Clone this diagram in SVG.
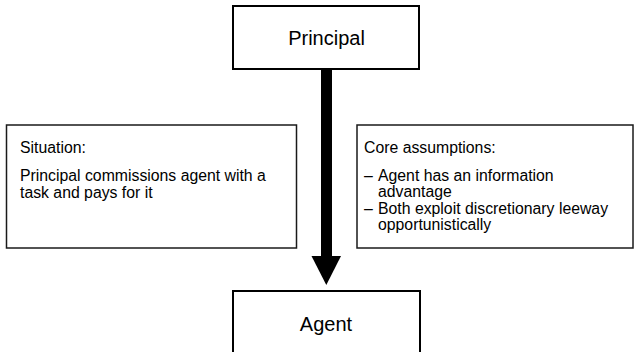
<svg xmlns="http://www.w3.org/2000/svg" width="636" height="352" viewBox="0 0 636 352">
  <style>
    .box { fill: #ffffff; stroke: #000000; stroke-width: 2; }
    .note { fill: #ffffff; stroke: #1a1a1a; stroke-width: 1.5; }
    .title { font-family: "Liberation Sans", Arial, sans-serif; font-size: 20px; fill: #000000; text-anchor: middle; }
    .body { font-family: "Liberation Sans", Arial, sans-serif; font-size: 15.8px; fill: #000000; }
  </style>
  <rect x="0" y="0" width="636" height="352" fill="#ffffff"/>

  <!-- connector: thick downward arrow from Principal to Agent -->
  <g id="connectors">
    <rect x="321" y="69" width="11" height="188" fill="#000000"/>
    <polygon points="311.5,256 341,256 326.3,285" fill="#000000"/>
  </g>

  <g id="principal">
    <rect class="box" x="233" y="6" width="186" height="63"/>
    <text class="title" x="326.5" y="45">Principal</text>
  </g>

  <g id="agent">
    <rect class="box" x="233" y="291" width="187" height="70"/>
    <text class="title" x="326" y="331">Agent</text>
  </g>

  <g id="situation">
    <rect class="note" x="6.5" y="125" width="290" height="123"/>
    <text class="body" x="20" y="153">Situation:</text>
    <text class="body" x="20" y="180.5">Principal commissions agent with a</text>
    <text class="body" x="20" y="198">task and pays for it</text>
  </g>

  <g id="assumptions">
    <rect class="note" x="357" y="125" width="276" height="123"/>
    <text class="body" x="364" y="153">Core assumptions:</text>
    <text class="body" x="364" y="181">–</text>
    <text class="body" x="378" y="181">Agent has an information</text>
    <text class="body" x="378" y="196.5">advantage</text>
    <text class="body" x="364" y="213.5">–</text>
    <text class="body" x="378" y="213.5">Both exploit discretionary leeway</text>
    <text class="body" x="378" y="230">opportunistically</text>
  </g>
</svg>
